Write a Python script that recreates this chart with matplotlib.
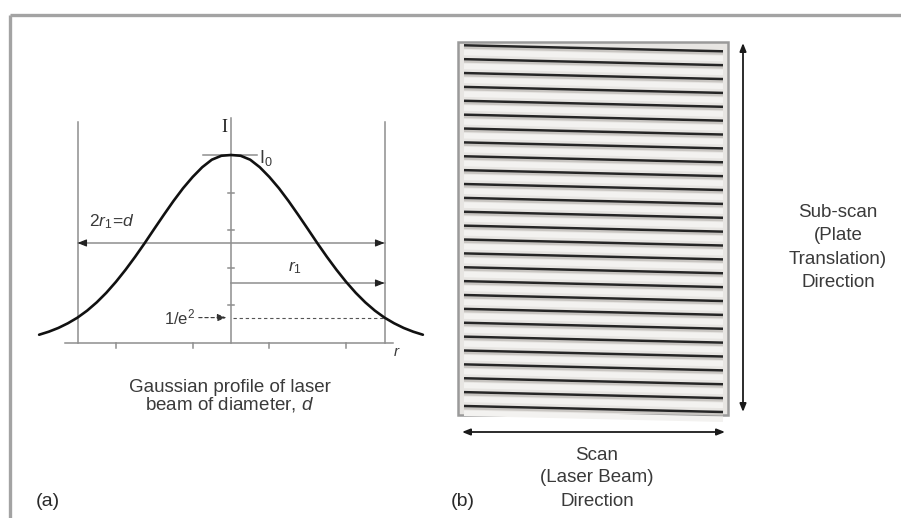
import numpy as np
import matplotlib
matplotlib.use("Agg")
import matplotlib.pyplot as plt
from matplotlib.patches import Rectangle

plt.rcParams['font.family'] = ['Liberation Sans', 'DejaVu Sans']
plt.rcParams['mathtext.fontset'] = 'custom'
plt.rcParams['mathtext.rm'] = 'Liberation Sans'
plt.rcParams['mathtext.it'] = 'Liberation Sans:italic'
plt.rcParams['mathtext.bf'] = 'Liberation Sans:bold'

# ---- beam profile: radial position (units of r1) and intensity (units of I0)
r_over_r1 = [-1.25, -1.1875, -1.125, -1.0625, -1.0, -0.9375, -0.875, -0.8125,
             -0.75, -0.6875, -0.625, -0.5625, -0.5, -0.4375, -0.375, -0.3125,
             -0.25, -0.1875, -0.125, -0.0625, 0.0, 0.0625, 0.125, 0.1875,
             0.25, 0.3125, 0.375, 0.4375, 0.5, 0.5625, 0.625, 0.6875,
             0.75, 0.8125, 0.875, 0.9375, 1.0, 1.0625, 1.125, 1.1875, 1.25]
intensity = [0.044, 0.060, 0.080, 0.105, 0.135, 0.172, 0.216, 0.267,
             0.325, 0.389, 0.458, 0.531, 0.607, 0.682, 0.755, 0.823,
             0.883, 0.935, 0.975, 0.996, 1.000, 0.996, 0.975, 0.935,
             0.883, 0.823, 0.755, 0.682, 0.607, 0.531, 0.458, 0.389,
             0.325, 0.267, 0.216, 0.172, 0.135, 0.105, 0.080, 0.060, 0.044]
radial_ticks = [-0.75, -0.25, 0.25, 0.75]
intensity_ticks = [0.2, 0.4, 0.6, 0.8, 1.0]
e2_level = 0.135          # 1/e^2 intensity level
n_scan_lines = 27         # raster lines written across the plate

caption_a = ["Gaussian profile of laser", "beam of diameter, $d$"]
subscan_text = ["Sub-scan", "(Plate", "Translation)", "Direction"]
scan_text = ["Scan", "(Laser Beam)", "Direction"]

TXT = '#3a3a3a'
GREY = '#8e8e8e'

W, H = 901, 518
fig = plt.figure(figsize=(W / 100, H / 100), dpi=100)
fig.patch.set_facecolor('white')

# overlay in pixel units for the frame and panel (b)
ax_o = fig.add_axes([0, 0, 1, 1])
ax_o.set_xlim(0, W)
ax_o.set_ylim(H, 0)
ax_o.axis('off')

# panel (a) in profile units
ax_a = fig.add_axes([0.75 / W, (H - 512.2) / H, 460.5 / W, 451.2 / H])
ax_a.set_xlim(-1.5, 1.5)
ax_a.set_ylim(-0.9, 1.5)
ax_a.axis('off')
ax_a.patch.set_visible(False)

# outer frame (top and left edges)
ax_o.plot([10, W], [15, 15], color='#a3a3a3', lw=2.4, solid_capstyle='butt')
ax_o.plot([10, 10], [15, H], color='#a3a3a3', lw=2.4, solid_capstyle='butt')

# ---------------- panel (a) ----------------
axis_lw = 1.1
ax_a.plot([-1.08, 1.055], [0, 0], color=GREY, lw=axis_lw)
ax_a.plot([0, 0], [0, 1.197], color=GREY, lw=axis_lw)
for u in (-1.0, 1.0):
    ax_a.plot([u, u], [0, 1.176], color=GREY, lw=axis_lw)
for t in radial_ticks:
    ax_a.plot([t, t], [0, -0.028], color=GREY, lw=axis_lw)
for t in intensity_ticks:
    ax_a.plot([-0.018, 0.018], [t, t], color=GREY, lw=axis_lw)
ax_a.plot([-0.18, 0.17], [1.0, 1.0], color=GREY, lw=axis_lw)

ax_a.plot(r_over_r1, intensity, color='#111111', lw=1.9,
          solid_joinstyle='round', solid_capstyle='round', zorder=5)

# diameter arrow 2r1 = d
y_d = 0.532
ax_a.plot([-1.0, 1.0], [y_d, y_d], color=GREY, lw=axis_lw)
head = dict(arrowstyle='-|>,head_length=0.45,head_width=0.18', color='#222222',
            lw=0.8, shrinkA=0, shrinkB=0, mutation_scale=12)
ax_a.annotate('', xy=(-1.0, y_d), xytext=(-0.95, y_d), arrowprops=head)
ax_a.annotate('', xy=(1.0, y_d), xytext=(0.95, y_d), arrowprops=head)

# radius arrow r1
y_r = 0.319
ax_a.plot([0.0, 1.0], [y_r, y_r], color=GREY, lw=axis_lw)
ax_a.annotate('', xy=(1.0, y_r), xytext=(0.95, y_r), arrowprops=head)

# 1/e^2 level
ax_a.plot([0.01, 1.0], [e2_level, e2_level], color='#555555', lw=0.8,
          ls=(0, (3, 2.5)))
ax_a.annotate('', xy=(-0.03, e2_level), xytext=(-0.21, e2_level),
              arrowprops=dict(arrowstyle='-|>,head_length=0.45,head_width=0.18',
                              color='#333333', lw=0.8, ls=(0, (3, 2.5)),
                              shrinkA=0, shrinkB=0, mutation_scale=12))

ax_a.text(-0.046, 1.144, 'I', fontsize=13, color='#222222', ha='center',
          va='center', family='Liberation Serif')
ax_a.text(0.18, 0.985, '$\\mathrm{I}_0$', fontsize=13, color=TXT, ha='left',
          va='center')
ax_a.text(-0.925, 0.645, '$2r_1\\!=\\!d$', fontsize=12.5, color=TXT, ha='left',
          va='center')
ax_a.text(0.417, 0.40, '$r_1$', fontsize=12.5, color=TXT, ha='center',
          va='center')
ax_a.text(-0.232, e2_level, '1/e$^2$', fontsize=12, color=TXT, ha='right',
          va='center')
ax_a.text(1.081, -0.05, '$r$', fontsize=11, color=TXT, ha='center',
          va='center')

for line, y_px in zip(caption_a, [392.5, 410.0]):
    ax_o.text(230, y_px, line, fontsize=13.5, color=TXT, ha='center',
              va='baseline')
ax_o.text(48, 506, '(a)', fontsize=14, color='#2a2a2a', ha='center',
          va='baseline')

# ---------------- panel (b) ----------------
left, right, top, bottom = 458, 728, 42, 415
ax_o.add_patch(Rectangle((left, top), right - left, bottom - top,
                         facecolor='#e7e5e2', edgecolor='#9a9a9a', lw=1.8,
                         zorder=1))
x0, x1 = 464, 723
drop = 6.0
first, last = 45.3, 406.0
ys = np.linspace(first, last, n_scan_lines)
gap = ys[1] - ys[0]
for y in ys:
    ax_o.plot([x0, x1], [y + gap * 0.52, y + gap * 0.52 + drop], color='#f3f2f0',
              lw=4.0, solid_capstyle='butt', zorder=2)
    ax_o.plot([x0, x1], [y + 2.4, y + 2.4 + drop], color='#c8c5c1',
              lw=1.6, solid_capstyle='butt', zorder=2)
    ax_o.plot([x0, x1], [y, y + drop], color='#262626', lw=1.8,
              solid_capstyle='butt', zorder=3)

arrow_b = dict(arrowstyle='<|-|>,head_length=0.4,head_width=0.16',
               color='#1a1a1a', lw=1.3, shrinkA=0, shrinkB=0, mutation_scale=12)
ax_o.annotate('', xy=(743, 43), xytext=(743, 412), arrowprops=arrow_b)
ax_o.annotate('', xy=(462, 432), xytext=(725, 432), arrowprops=arrow_b)

for line, y_px in zip(subscan_text, [216.7, 240.2, 263.7, 287.2]):
    ax_o.text(838, y_px, line, fontsize=13.5, color=TXT, ha='center',
              va='baseline')
for line, y_px in zip(scan_text, [459.5, 482.5, 505.5]):
    ax_o.text(597, y_px, line, fontsize=13.5, color=TXT, ha='center',
              va='baseline')
ax_o.text(463, 506, '(b)', fontsize=14, color='#2a2a2a', ha='center',
          va='baseline')

fig.savefig('out.png', dpi=100, facecolor='white')
